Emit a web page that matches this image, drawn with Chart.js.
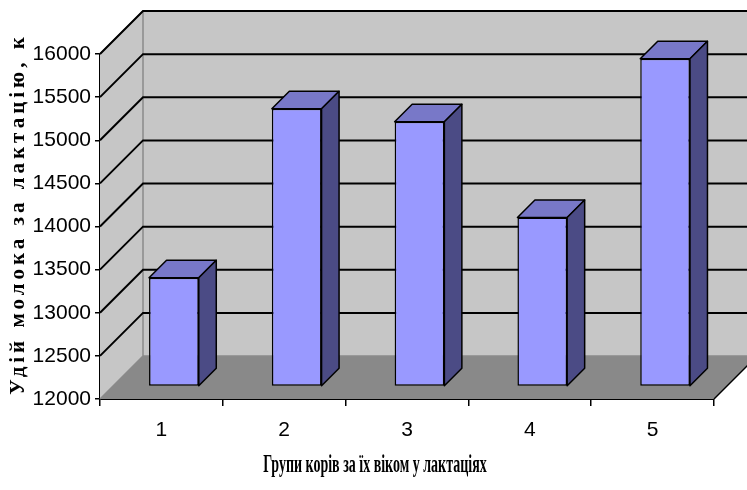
<!DOCTYPE html>
<html>
<head>
<meta charset="utf-8">
<script src="https://cdn.jsdelivr.net/npm/chart.js"></script>
<style>
  html, body { margin: 0; padding: 0; background: #fff; }
  #wrap { width: 747px; height: 490px; }
</style>
</head>
<body>
<div id="wrap"><canvas id="milk-chart" width="747" height="490"></canvas></div>
<script>
var groups = ['1', '2', '3', '4', '5'];
var milkYield = [13260, 15220, 15070, 13960, 15800];
var yTitle = 'Удій молока за лактацію, к';
var xTitle = 'Групи корів за їх віком у лактаціях';

// depth of the 3D box (walls) and of each bar, in px
var WALL_D = 43;
var BAR_SHIFT = 12.5;
var BAR_D = 17.5;

var tickFont = { family: '"Liberation Sans Narrow", "Arial Narrow", "Liberation Sans"', size: 21 };

var box3d = {
    id: 'box3d',
    beforeDatasetsDraw: function(chart) {
        var ctx = chart.ctx;
        var a = chart.chartArea;
        var y = chart.scales.y;
        ctx.save();
        // side wall
        ctx.fillStyle = '#c6c6c6';
        ctx.beginPath();
        ctx.moveTo(a.left, a.top);
        ctx.lineTo(a.left + WALL_D, a.top - WALL_D);
        ctx.lineTo(a.left + WALL_D, a.bottom - WALL_D);
        ctx.lineTo(a.left, a.bottom);
        ctx.closePath();
        ctx.fill();
        // back wall
        ctx.fillRect(a.left + WALL_D, a.top - WALL_D, chart.width, a.bottom - a.top);
        // floor
        ctx.fillStyle = '#898989';
        ctx.beginPath();
        ctx.moveTo(a.left, a.bottom);
        ctx.lineTo(a.left + WALL_D, a.bottom - WALL_D);
        ctx.lineTo(a.right + WALL_D, a.bottom - WALL_D);
        ctx.lineTo(a.right, a.bottom);
        ctx.closePath();
        ctx.fill();
        // wall edges
        ctx.strokeStyle = '#8a8a8a';
        ctx.lineWidth = 1.5;
        ctx.beginPath();
        ctx.moveTo(a.left, a.top);
        ctx.lineTo(a.left + WALL_D, a.top - WALL_D);
        ctx.lineTo(chart.width, a.top - WALL_D);
        ctx.moveTo(a.left + WALL_D, a.top - WALL_D);
        ctx.lineTo(a.left + WALL_D, a.bottom - WALL_D);
        ctx.lineTo(chart.width, a.bottom - WALL_D);
        ctx.moveTo(a.left, a.bottom);
        ctx.lineTo(a.left + WALL_D, a.bottom - WALL_D);
        ctx.stroke();
        // gridlines
        ctx.strokeStyle = '#000';
        ctx.lineWidth = 2;
        y.ticks.forEach(function(t) {
            if (t.value <= y.min) return;
            var py = y.getPixelForValue(t.value);
            ctx.beginPath();
            ctx.moveTo(a.left, py);
            ctx.lineTo(a.left + WALL_D, py - WALL_D);
            ctx.lineTo(chart.width, py - WALL_D);
            ctx.stroke();
        });
        // floor right edge
        ctx.lineWidth = 1.5;
        ctx.beginPath();
        ctx.moveTo(a.right, a.bottom);
        ctx.lineTo(a.right + WALL_D, a.bottom - WALL_D);
        ctx.stroke();
        ctx.restore();

        ctx.save();
        ctx.translate(BAR_SHIFT, -BAR_SHIFT);
    },
    afterDatasetsDraw: function(chart) {
        var ctx = chart.ctx;
        chart.getDatasetMeta(0).data.forEach(function(bar) {
            var p = bar.getProps(['x', 'y', 'base', 'width'], true);
            var l = p.x - p.width / 2, r = p.x + p.width / 2;
            ctx.lineWidth = 1.5;
            ctx.strokeStyle = '#000';
            ctx.lineJoin = 'round';
            // top
            ctx.fillStyle = '#7878c8';
            ctx.beginPath();
            ctx.moveTo(l, p.y);
            ctx.lineTo(l + BAR_D, p.y - BAR_D);
            ctx.lineTo(r + BAR_D, p.y - BAR_D);
            ctx.lineTo(r, p.y);
            ctx.closePath();
            ctx.fill();
            ctx.stroke();
            // side
            ctx.fillStyle = '#4b4b85';
            ctx.beginPath();
            ctx.moveTo(r, p.y);
            ctx.lineTo(r + BAR_D, p.y - BAR_D);
            ctx.lineTo(r + BAR_D, p.base - BAR_D);
            ctx.lineTo(r, p.base);
            ctx.closePath();
            ctx.fill();
            ctx.stroke();
        });
        ctx.restore();
    },
    afterDraw: function(chart) {
        var ctx = chart.ctx;
        ctx.save();
        ctx.fillStyle = '#000';
        ctx.textAlign = 'center';
        ctx.textBaseline = 'middle';
        // y title
        ctx.translate(19, 214);
        ctx.rotate(-Math.PI / 2);
        ctx.font = 'bold 21px "Liberation Serif"';
        ctx.letterSpacing = '4px';
        ctx.fillText(yTitle, 0, 0);
        ctx.restore();
        // x title
        ctx.save();
        ctx.fillStyle = '#000';
        ctx.textAlign = 'center';
        ctx.textBaseline = 'middle';
        ctx.translate(375, 466);
        ctx.scale(0.56, 1);
        ctx.font = 'bold 25px "Liberation Serif"';
        ctx.fillText(xTitle, 0, 0);
        ctx.restore();
    }
};

var ctx = document.getElementById('milk-chart').getContext('2d');
var milkChart = new Chart(ctx, {
    type: 'bar',
    data: {
        labels: groups,
        datasets: [{
            data: milkYield,
            base: 12000,
            backgroundColor: '#9999ff',
            borderColor: '#000',
            borderWidth: 1.5,
            borderSkipped: false,
            categoryPercentage: 1,
            barPercentage: 0.405,
            clip: false
        }]
    },
    options: {
        responsive: false,
        animation: false,
        devicePixelRatio: 1,
        layout: {
            padding: { top: 54, right: 33, left: 0, bottom: 0 }
        },
        plugins: {
            legend: { display: false },
            tooltip: { enabled: false }
        },
        scales: {
            x: {
                afterFit: function(scale) { scale.height = 91; },
                grid: {
                    drawOnChartArea: false,
                    color: '#000',
                    lineWidth: 1.5,
                    tickLength: 7
                },
                border: { color: '#000', width: 2 },
                ticks: {
                    color: '#000',
                    padding: 12,
                    font: tickFont
                }
            },
            y: {
                min: 12000,
                max: 16000,
                afterFit: function(scale) { scale.width = 100; },
                grid: {
                    drawOnChartArea: false,
                    color: '#000',
                    lineWidth: 1.5,
                    tickLength: 5
                },
                border: { color: '#000', width: 2 },
                ticks: {
                    stepSize: 500,
                    color: '#000',
                    padding: 4,
                    font: tickFont,
                    callback: function(v) { return String(v); }
                }
            }
        }
    },
    plugins: [box3d]
});
</script>
</body>
</html>
